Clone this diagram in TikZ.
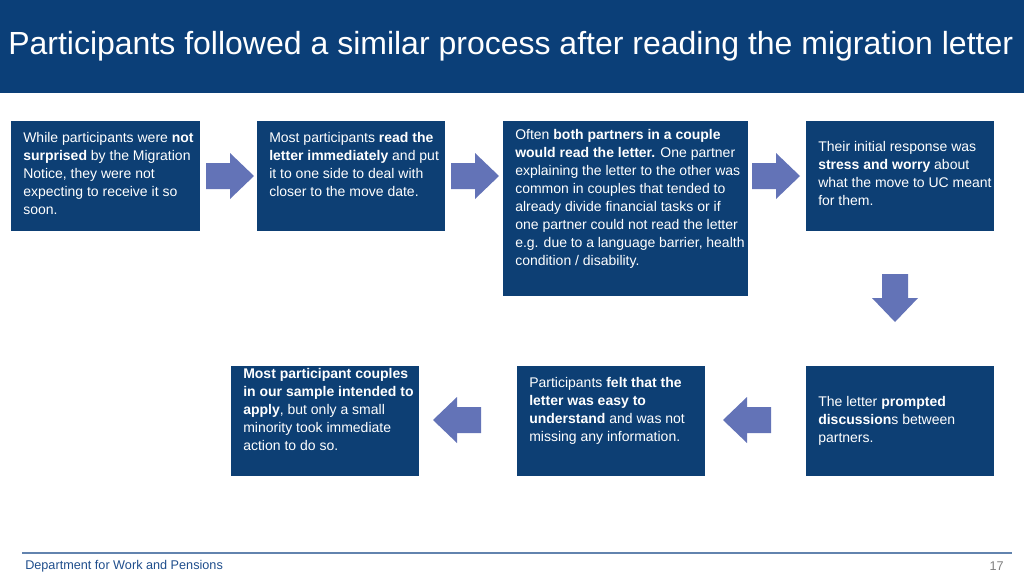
\documentclass[tikz,border=0pt]{standalone}
\usepackage{fontspec}
\setmainfont{Liberation Sans}
\definecolor{hdr}{HTML}{0B3F78}
\definecolor{bx}{HTML}{0D3F74}
\definecolor{arr}{HTML}{6373B7}
\definecolor{ft}{HTML}{1F4E8C}
\newcommand{\flowarrow}[3]{\begin{scope}[shift={(#1,#2)},rotate=#3]
\fill[arr] (-24,-13) -- (0,-13) -- (0,-23) -- (24,0) -- (0,23) -- (0,13) -- (-24,13) -- cycle;
\end{scope}}
\begin{document}
\begin{tikzpicture}[x=0.75pt,y=-0.75pt,
  box/.style={fill=bx,draw=none},
  txt/.style={text=white,font=\fontsize{10.5pt}{13.5pt}\selectfont,align=flush left,inner sep=0pt,text width=130pt}]
\useasboundingbox (0,0) rectangle (1024,575);
\fill[hdr] (0,0) rectangle (1024,93);
\node[text=white,font=\fontsize{24pt}{28pt}\selectfont,anchor=west,inner sep=0] (title) at (8,46) {Participants followed a similar process after reading the migration letter};
\fill[box] (11,121) rectangle (200,231);
\fill[box] (257,121) rectangle (445,231);
\fill[box] (503,121) rectangle (748,296);
\fill[box] (806,121) rectangle (994,231);
\fill[box] (806,366) rectangle (994,476);
\fill[box] (517,366) rectangle (705,476);
\fill[box] (231,366) rectangle (419,476);
\node[txt,anchor=north west] (t1) at (23,132) {While participants were \textbf{not surprised} by the Migration Notice, they were not expecting to receive it so soon.};
\node[txt,anchor=north west] (t2) at (269,132) {Most participants \textbf{read the letter immediately} and put it to one side to deal with closer to the move date.};
\node[txt,anchor=north west,text width=172pt] (t3) at (515,129) {Often \textbf{both partners in a couple would read the letter.} One partner explaining the letter to the other was common in couples that tended to already divide financial tasks or if one partner could not read the letter e.g. due to a language barrier, health condition / disability.};
\node[txt,anchor=north west] (t4) at (818,141) {Their initial response was \textbf{stress and worry} about what the move to UC meant for them.};
\node[txt,anchor=north west] (t5) at (818,396) {The letter \textbf{prompted discussion}s between partners.};
\node[txt,anchor=north west] (t6) at (529,377) {Participants \textbf{felt that the letter was easy to understand} and was not missing any information.};
\node[txt,anchor=north west] (t7) at (243,368) {\textbf{Most participant couples in our sample intended to apply}, but only a small minority took immediate action to do so.};
\flowarrow{230}{176}{0}
\flowarrow{475}{176}{0}
\flowarrow{776}{176}{0}
\flowarrow{895}{298}{270}
\flowarrow{747}{420}{180}
\flowarrow{457}{420}{180}
\draw[ft!70,line width=0.8pt] (22,553) -- (1012,553);
\node[text=ft,font=\fontsize{9.5pt}{11pt}\selectfont,anchor=west,inner sep=0] (dept) at (25,566) {Department for Work and Pensions};
\node[text=gray,font=\fontsize{9.5pt}{11pt}\selectfont,anchor=east,inner sep=0] (pg) at (1004,566) {17};
\end{tikzpicture}
\end{document}
